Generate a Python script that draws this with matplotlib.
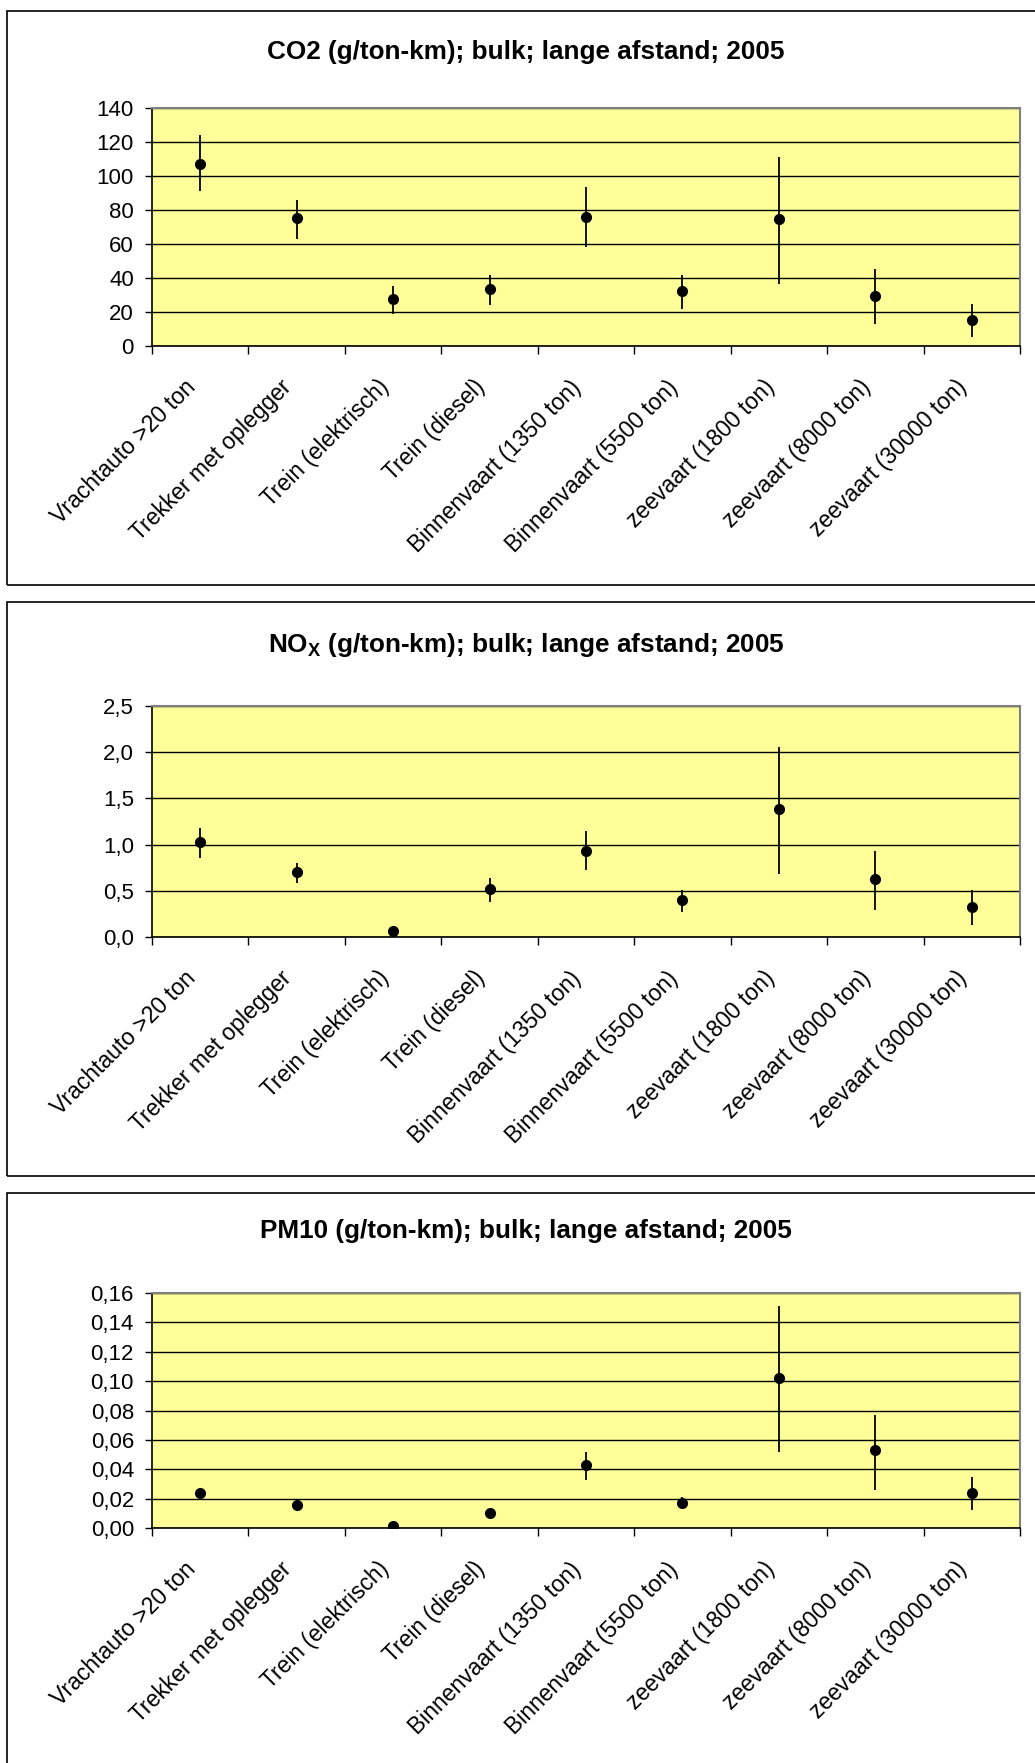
import numpy as np
import matplotlib
matplotlib.use('Agg')
import matplotlib.pyplot as plt
from matplotlib.patches import Rectangle
from matplotlib.ticker import FixedLocator, FuncFormatter

plt.rcParams['font.family'] = ['Liberation Sans', 'DejaVu Sans']
plt.rcParams['mathtext.fontset'] = 'custom'
plt.rcParams['mathtext.rm'] = 'Liberation Sans'
plt.rcParams['mathtext.bf'] = 'Liberation Sans:bold'

cats = ['Vrachtauto >20 ton', 'Trekker met oplegger', 'Trein (elektrisch)',
        'Trein (diesel)', 'Binnenvaart (1350 ton)', 'Binnenvaart (5500 ton)',
        'zeevaart (1800 ton)', 'zeevaart (8000 ton)', 'zeevaart (30000 ton)']

co2 = [107, 75, 27.5, 33.5, 76, 32.5, 74.5, 29.5, 15]
co2_lo = [91, 63, 19, 24, 58, 21.5, 36.5, 13, 5]
co2_hi = [124, 86, 35, 42, 93.5, 42, 111, 45, 24.5]

nox = [1.03, 0.70, 0.06, 0.52, 0.93, 0.40, 1.38, 0.63, 0.33]
nox_lo = [0.86, 0.58, 0.03, 0.38, 0.72, 0.27, 0.68, 0.29, 0.13]
nox_hi = [1.18, 0.80, 0.10, 0.64, 1.15, 0.51, 2.06, 0.93, 0.51]

pm10 = [0.024, 0.016, 0.0015, 0.0105, 0.043, 0.017, 0.102, 0.053, 0.024]
pm10_lo = [0.021, 0.012, 0.0005, 0.009, 0.033, 0.013, 0.052, 0.026, 0.012]
pm10_hi = [0.0265, 0.019, 0.0025, 0.012, 0.0515, 0.021, 0.151, 0.077, 0.035]

co2_ticks = [0, 20, 40, 60, 80, 100, 120, 140]
nox_ticks = [0.0, 0.5, 1.0, 1.5, 2.0, 2.5]
pm10_ticks = [0.00, 0.02, 0.04, 0.06, 0.08, 0.10, 0.12, 0.14, 0.16]

W, H = 1035, 1763
fig = plt.figure(figsize=(W / 100, H / 100), dpi=100)

# panel boxes (pixels: top, bottom)
boxes = [(11, 585), (602, 1176), (1193, 1770)]
for top, bot in boxes:
    fig.patches.append(Rectangle((7 / W, 1 - bot / H), (W + 10) / W, (bot - top) / H,
                                 transform=fig.transFigure, fill=False,
                                 edgecolor='black', linewidth=1.2))

panels = [
    (108, 346, 52, 'CO2 (g/ton-km); bulk; lange afstand; 2005', co2, co2_lo, co2_hi, co2_ticks, '{:.0f}'),
    (706, 937, 645, r'$\mathbf{NO_X}$ (g/ton-km); bulk; lange afstand; 2005', nox, nox_lo, nox_hi, nox_ticks, '{:.1f}'),
    (1293, 1528, 1231, 'PM10 (g/ton-km); bulk; lange afstand; 2005', pm10, pm10_lo, pm10_hi, pm10_ticks, '{:.2f}'),
]

x = np.arange(len(cats))
for top, bot, ty, title, val, lo, hi, ticks, fmt in panels:
    ax = fig.add_axes([152 / W, 1 - bot / H, 868 / W, (bot - top) / H])
    ax.set_facecolor('#FFFF99')
    ax.set_xlim(-0.5, len(cats) - 0.5)
    ax.set_ylim(ticks[0], ticks[-1])
    ax.set_yticks(ticks)
    ax.yaxis.set_major_formatter(FuncFormatter(lambda v, p, f=fmt: f.format(v).replace('.', ',')))
    ax.grid(axis='y', color='black', linewidth=1.0)
    ax.set_axisbelow(True)
    val = np.array(val)
    yerr = [val - np.array(lo), np.array(hi) - val]
    ax.errorbar(x, val, yerr=yerr, fmt='o', color='black', ms=7, elinewidth=1.3,
                capsize=0, zorder=3)
    ax.xaxis.set_major_locator(FixedLocator(np.arange(-0.5, len(cats), 1.0)))
    ax.xaxis.set_major_formatter(FuncFormatter(lambda v, p: ''))
    ax.xaxis.set_minor_locator(FixedLocator(x))
    ax.set_xticklabels(cats, minor=True, rotation=45, ha='right', va='bottom',
                       rotation_mode='anchor')
    ax.tick_params(axis='x', which='minor', length=0, pad=33, labelsize=16.5)
    ax.tick_params(axis='x', which='major', length=6, direction='out', width=1)
    ax.tick_params(axis='y', length=5, direction='out', labelsize=16, width=1, pad=8)
    for s in ['top', 'right']:
        ax.spines[s].set_color('#808080')
        ax.spines[s].set_linewidth(1.5)
    for s in ['left', 'bottom']:
        ax.spines[s].set_color('black')
        ax.spines[s].set_linewidth(1.2)
    fig.text(526 / W, 1 - ty / H, title, ha='center', va='center',
             fontsize=18.8, fontweight='bold')

fig.savefig('out.png', dpi=100)
